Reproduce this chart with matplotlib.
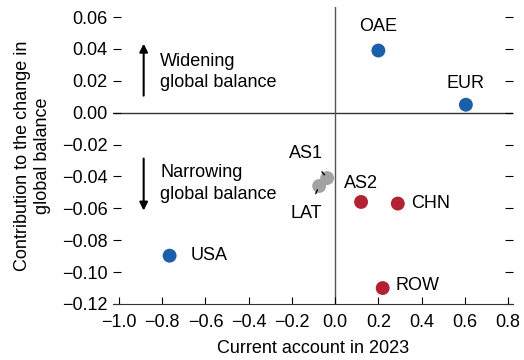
import matplotlib.pyplot as plt

# data
names = ['OAE', 'EUR', 'USA', 'ROW', 'CHN', 'AS2', 'AS1', 'LAT']
current_account = [0.20, 0.605, -0.766, 0.22, 0.29, 0.12, -0.037, -0.074]
contribution = [0.039, 0.005, -0.0897, -0.110, -0.057, -0.056, -0.041, -0.046]
groups = ['blue', 'blue', 'blue', 'red', 'red', 'red', 'gray', 'gray']

colors = {'blue': '#1a5fa8', 'red': '#b22234', 'gray': '#a3a3a3'}

plt.rcParams['font.family'] = ['Liberation Sans', 'DejaVu Sans']

fig = plt.figure(figsize=(5.24, 3.6), dpi=100)
ax = fig.add_axes([0.2156, 0.1556, 0.7634, 0.8236])

ax.axhline(0, color='#333333', lw=1, zorder=1)
ax.axvline(0, color='#555555', lw=1, zorder=1)

for x, y, g in zip(current_account, contribution, groups):
    ax.scatter(x, y, s=100, color=colors[g], zorder=3, edgecolor='none')

fs = 13
# label offsets in points
offsets = {
    'OAE': (0, 17, 'center', 'center'),
    'EUR': (0, 15, 'center', 'center'),
    'USA': (15, 0, 'left', 'center'),
    'ROW': (9.5, 2, 'left', 'center'),
    'CHN': (9.5, 0, 'left', 'center'),
    'AS2': (0, 13, 'center', 'center'),
}
for n, x, y in zip(names, current_account, contribution):
    if n in offsets:
        dx, dy, ha, va = offsets[n]
        ax.annotate(n, (x, y), xytext=(dx, dy), textcoords='offset points',
                    ha=ha, va=va, fontsize=fs)

# AS1 and LAT with leader lines
i = names.index('AS1')
ax.annotate('AS1', (current_account[i], contribution[i]), xytext=(-15, 18),
            textcoords='offset points', ha='center', va='center', fontsize=fs,
            arrowprops=dict(arrowstyle='-', color='black', lw=1,
                            shrinkA=7, shrinkB=3))
i = names.index('LAT')
ax.annotate('LAT', (current_account[i], contribution[i]), xytext=(-9, -20),
            textcoords='offset points', ha='center', va='center', fontsize=fs,
            arrowprops=dict(arrowstyle='-', color='black', lw=1,
                            shrinkA=7, shrinkB=3))

# direction arrows
ax.annotate('', xy=(-0.886, 0.0433), xytext=(-0.886, 0.0107),
            arrowprops=dict(arrowstyle='-|>', color='black', lw=1.5,
                            mutation_scale=12, shrinkA=0, shrinkB=0))
ax.text(-0.81, 0.0255, 'Widening\nglobal balance', fontsize=fs,
        ha='left', va='center', linespacing=1.35)
ax.annotate('', xy=(-0.886, -0.0614), xytext=(-0.886, -0.0288),
            arrowprops=dict(arrowstyle='-|>', color='black', lw=1.5,
                            mutation_scale=12, shrinkA=0, shrinkB=0))
ax.text(-0.81, -0.0445, 'Narrowing\nglobal balance', fontsize=fs,
        ha='left', va='center', linespacing=1.35)

ax.set_xlim(-1.028, 0.823)
ax.set_ylim(-0.12, 0.066)
ax.set_xticks([-1.0, -0.8, -0.6, -0.4, -0.2, 0.0, 0.2, 0.4, 0.6, 0.8])
ax.set_yticks([0.06, 0.04, 0.02, 0.0, -0.02, -0.04, -0.06, -0.08, -0.10, -0.12])
ax.set_xticklabels(['\u22121.0', '\u22120.8', '\u22120.6', '\u22120.4', '\u22120.2',
                    '0.0', '0.2', '0.4', '0.6', '0.8'])
ax.set_yticklabels(['0.06', '0.04', '0.02', '0.00', '\u22120.02', '\u22120.04',
                    '\u22120.06', '\u22120.08', '\u22120.10', '\u22120.12'])
ax.tick_params(axis='x', direction='in', length=5, labelsize=fs, pad=7)
ax.tick_params(axis='y', direction='in', length=6, labelsize=fs, pad=4,
               right=True)
for s in ['top', 'right', 'left']:
    ax.spines[s].set_visible(False)
ax.spines['bottom'].set_color('#333333')

ax.set_xlabel('Current account in 2023', fontsize=fs, labelpad=7)
ax.set_ylabel('Contribution to the change in\nglobal balance', fontsize=fs,
              labelpad=8, linespacing=1.2)

fig.savefig('out.png', dpi=100)
